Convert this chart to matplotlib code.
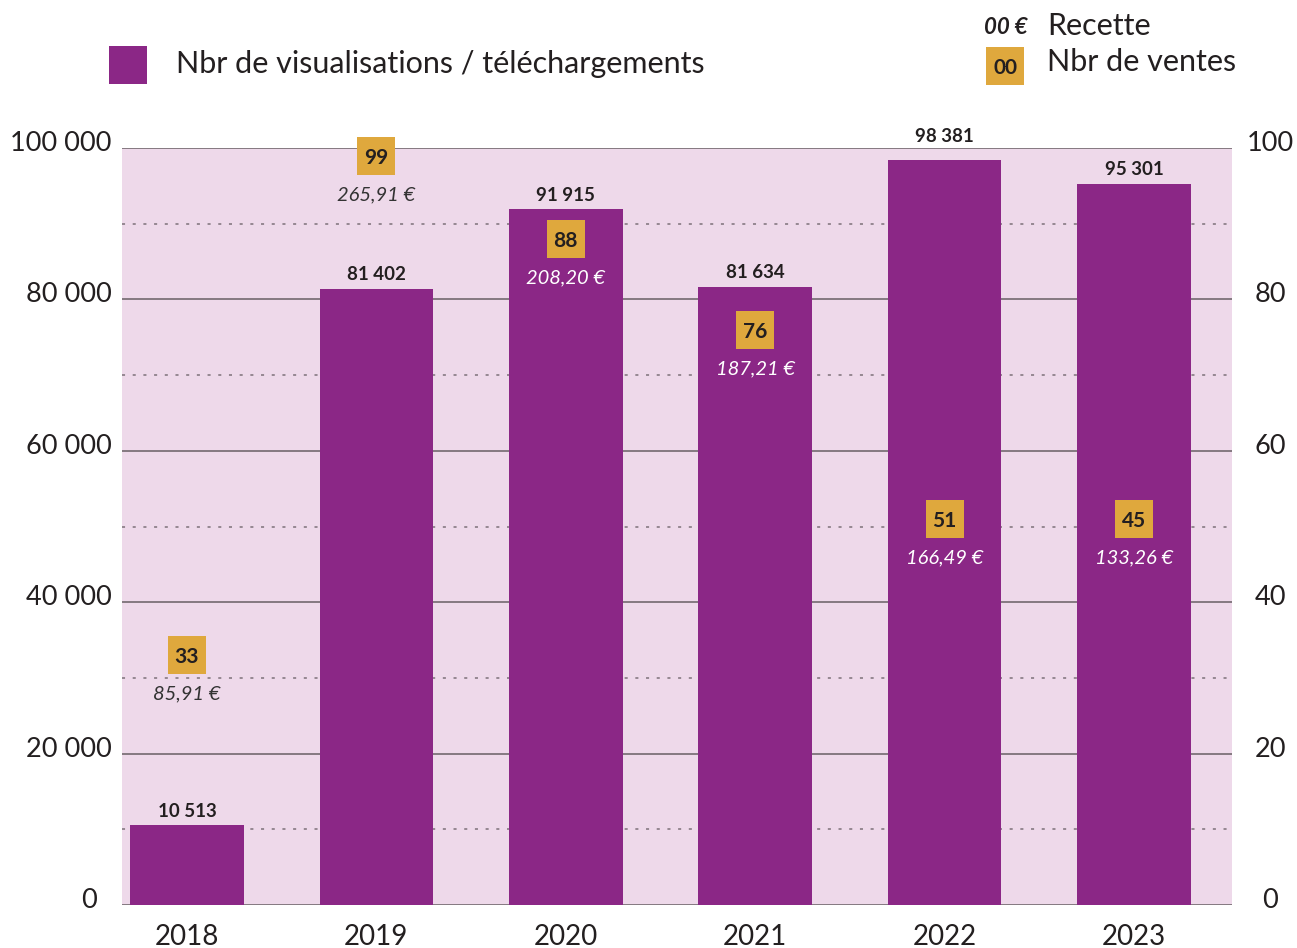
import matplotlib
matplotlib.use("Agg")
import matplotlib.pyplot as plt
import matplotlib.transforms as mtransforms
from matplotlib.patches import Rectangle

years = ["2018", "2019", "2020", "2021", "2022", "2023"]
views = [10513, 81402, 91915, 81634, 98381, 95301]
view_labels = ["10 513", "81 402", "91 915", "81 634", "98 381", "95 301"]
sales = [33, 99, 88, 76, 51, 45]
revenue = ["85,91 €", "265,91 €", "208,20 €", "187,21 €", "166,49 €", "133,26 €"]
left_ticks = [0, 20000, 40000, 60000, 80000, 100000]
left_tick_labels = ["0", "20 000", "40 000", "60 000", "80 000", "100 000"]
right_ticks = [0, 20, 40, 60, 80, 100]

PURPLE = "#8B2786"
PINK = "#EED9EA"
GOLD = "#DFA83D"
GRID = "#7d7179"
TXT = "#231f20"

plt.rcParams['font.family'] = ['Lato', 'DejaVu Sans']

W, H = 1297, 948
fig = plt.figure(figsize=(W/100, H/100), dpi=100)
ax = fig.add_axes([122/W, 1-905/H, 1110/W, 757/H])
ax.set_facecolor(PINK)
x = list(range(len(years)))
ax.set_xlim(-0.343, 5.517)
ax.set_ylim(0, 100000)

for v in left_ticks:
    ax.axhline(v, color=GRID, lw=1.3, zorder=1)
for v in [10000, 30000, 50000, 70000, 90000]:
    ax.axhline(v, color=GRID, lw=1.1, ls=(0, (2, 5)), zorder=1)

ax.bar(x, views, width=0.60, color=PURPLE, zorder=2)

for s in ax.spines.values():
    s.set_visible(False)
ax.set_yticks(left_ticks)
ax.set_yticklabels(left_tick_labels, fontsize=19.5, color=TXT)
ax.tick_params(axis='y', length=0, pad=7.5)
ax.set_xticks(x)
ax.set_xticklabels(years, fontsize=20, color=TXT)
ax.tick_params(axis='x', length=0, pad=14)

ax2 = ax.twinx()
ax2.set_ylim(0, 100)
ax2.set_yticks(right_ticks)
ax2.set_yticklabels([str(t) for t in right_ticks], fontsize=19.5, color=TXT, ha='center')
ax2.tick_params(axis='y', length=0, pad=27.5)
for s in ax2.spines.values():
    s.set_visible(False)

# tick labels sit slightly above their gridlines
up = mtransforms.ScaledTranslation(0, 7/100, fig.dpi_scale_trans)
for lab in ax.get_yticklabels() + ax2.get_yticklabels():
    lab.set_transform(lab.get_transform() + up)
zero_shift = mtransforms.ScaledTranslation(-15/100, 0, fig.dpi_scale_trans)
zlab = ax.get_yticklabels()[0]
zlab.set_transform(zlab.get_transform() + zero_shift)

# box positions: the last one is aligned with its neighbour, as in the original
box_y = list(sales)
box_y[5] = max(sales[5], sales[4])

ax2.scatter(x, box_y, marker='s', s=27.5**2, color=GOLD, linewidths=0, zorder=5,
            clip_on=False)
for i in x:
    # lift a value label above the top gridline when it would cross it
    off = 11 if views[i] > 96000 else 4
    ax.annotate(view_labels[i], (i, views[i]), xytext=(0, off), textcoords='offset points',
                ha='center', va='bottom', fontsize=13.5, fontweight='bold', color=TXT,
                annotation_clip=False, zorder=5)
    ax2.annotate(str(sales[i]), (i, box_y[i]), ha='center', va='center_baseline',
                 fontsize=15, fontweight='bold', color=TXT, zorder=6,
                 annotation_clip=False)
    inside = box_y[i] * 1000 - 3800 < views[i]
    ax2.annotate(revenue[i], (i, box_y[i]), xytext=(0, -28), textcoords='offset points',
                 ha='center', va='center', fontsize=14.5, style='italic',
                 color='white' if inside else '#333333', zorder=6)

# legend
fig.patches.append(Rectangle((109/W, 1-84/H), 38/W, 38/H, transform=fig.transFigure,
                             facecolor=PURPLE, edgecolor='none'))
fig.text(176/W, 1-64/H, "Nbr de visualisations / téléchargements", fontsize=22,
         color=TXT, va='center', ha='left')
fig.text(1028/W, 1-27/H, "00 €", fontsize=16, fontweight='bold', style='italic',
         color=TXT, va='center', ha='right')
fig.text(1047/W, 1-26/H, "Recette", fontsize=22, color=TXT, va='center', ha='left')
fig.patches.append(Rectangle((986/W, 1-85/H), 38/W, 38/H, transform=fig.transFigure,
                             facecolor=GOLD, edgecolor='none'))
fig.text(1005/W, 1-66/H, "00", fontsize=15, fontweight='bold', color=TXT,
         va='center_baseline', ha='center')
fig.text(1047/W, 1-62/H, "Nbr de ventes", fontsize=22, color=TXT, va='center', ha='left')

fig.savefig("out.png", dpi=100)
